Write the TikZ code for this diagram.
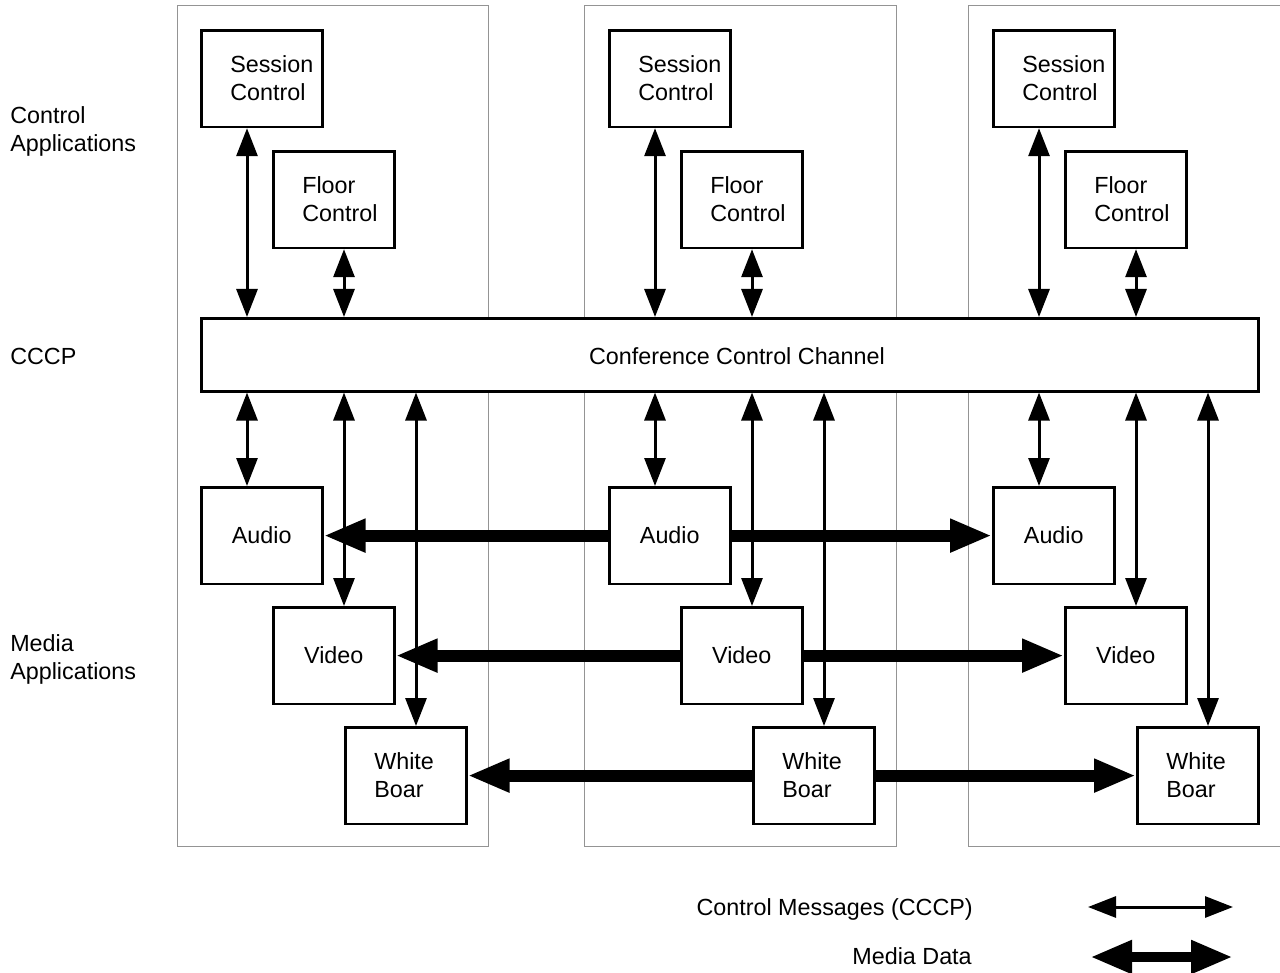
\documentclass[tikz,border=0pt]{standalone}
\usepackage{fontspec}
\setmainfont{Liberation Sans}
\usetikzlibrary{arrows.meta,calc}
\begin{document}
\begin{tikzpicture}[x=0.75pt,y=-0.75pt,
  font=\fontsize{17.5pt}{21pt}\selectfont,
  column/.style={draw=black!42, line width=0.75pt},
  box/.style={draw, fill=white, line width=1.9pt, minimum width=90.75pt,
    minimum height=72.5pt, inner sep=0pt, anchor=north west},
  twoline/.style={box, align=left, text width=47.25pt, inner xsep=21.75pt},
  oneline/.style={box, align=center},
  ctltip/.style={Triangle[length=21pt,width=15.75pt]},
  mediatip/.style={Triangle[length=31.5pt,width=23.25pt]},
  ctl/.style={line width=2.25pt, {Triangle[length=21pt,width=15.75pt]}-{Triangle[length=21pt,width=15.75pt]}},
  media/.style={line width=9pt, -{Triangle[length=31.5pt,width=23.25pt]}},
  mediaboth/.style={line width=8pt, {Triangle[length=31.5pt,width=23.25pt]}-{Triangle[length=31.5pt,width=23.25pt]}},
  lbl/.style={anchor=west, align=left, inner sep=0pt}
]
\useasboundingbox (0,0) rectangle (1280,973);

% site columns
\draw[column] (177,6) rectangle (488,846);
\draw[column] (584,6) rectangle (896,846);
\draw[column] (1281,6) -| (968,846) -- (1281,846);

% layer labels
\node[lbl] (ctlapp) at (10,131) {Control\\Applications};
\node[lbl] (cccplbl) at (10,356) {CCCP};
\node[lbl] (mediaapp) at (10,659) {Media\\Applications};

% conference control channel
\node[box, minimum width=792.75pt, minimum height=54.75pt] (ccc) at (200,317) {};
\node[inner sep=0pt] (ccctext) at (737,356) {Conference Control Channel};

% applications at each site
\foreach \dx/\c in {0/L,408/M,792/R}{
  \node[twoline] (ses\c) at (200+\dx,29) {Session\\Control};
  \node[twoline] (flr\c) at (272+\dx,150) {Floor\\Control};
  \node[oneline] (aud\c) at (200+\dx,486) {Audio};
  \node[oneline] (vid\c) at (272+\dx,606) {Video};
  \node[twoline] (wb\c) at (344+\dx,726) {White\\Boar};
}

% media data from the middle site
\foreach \a in {aud,vid,wb}{
  \draw[media] (\a M.west) -- (\a L.east);
  \draw[media] (\a M.east) -- (\a R.west);
}

% control messages through the channel
\foreach \c in {L,M,R}{
  \coordinate (st\c) at ($(ses\c.south west)+(47,0)$);
  \coordinate (ft\c) at ($(flr\c.south west)+(72,0)$);
  \coordinate (at\c) at ($(aud\c.north west)+(47,0)$);
  \coordinate (vt\c) at ($(vid\c.north west)+(72,0)$);
  \coordinate (wt\c) at ($(wb\c.north west)+(72,0)$);
  \draw[ctl] (st\c) -- (st\c |- ccc.north);
  \draw[ctl] (ft\c) -- (ft\c |- ccc.north);
  \draw[ctl] (at\c |- ccc.south) -- (at\c);
  \draw[ctl] (vt\c |- ccc.south) -- (vt\c);
  \draw[ctl] (wt\c |- ccc.south) -- (wt\c);
}

% legend
\node[anchor=east, inner sep=0pt] (lgctl) at (973,909) {Control Messages (CCCP)};
\node[anchor=east, inner sep=0pt] (lgmed) at (972,956) {Media Data};
\coordinate (lc1) at (1088,907);
\coordinate (lc2) at (1233,907);
\coordinate (lm1) at (1090,957);
\coordinate (lm2) at (1233,957);
\draw[ctl] (lc1) -- (lc2);
\draw[mediaboth] (lm1) -- (lm2);
\end{tikzpicture}
\end{document}
